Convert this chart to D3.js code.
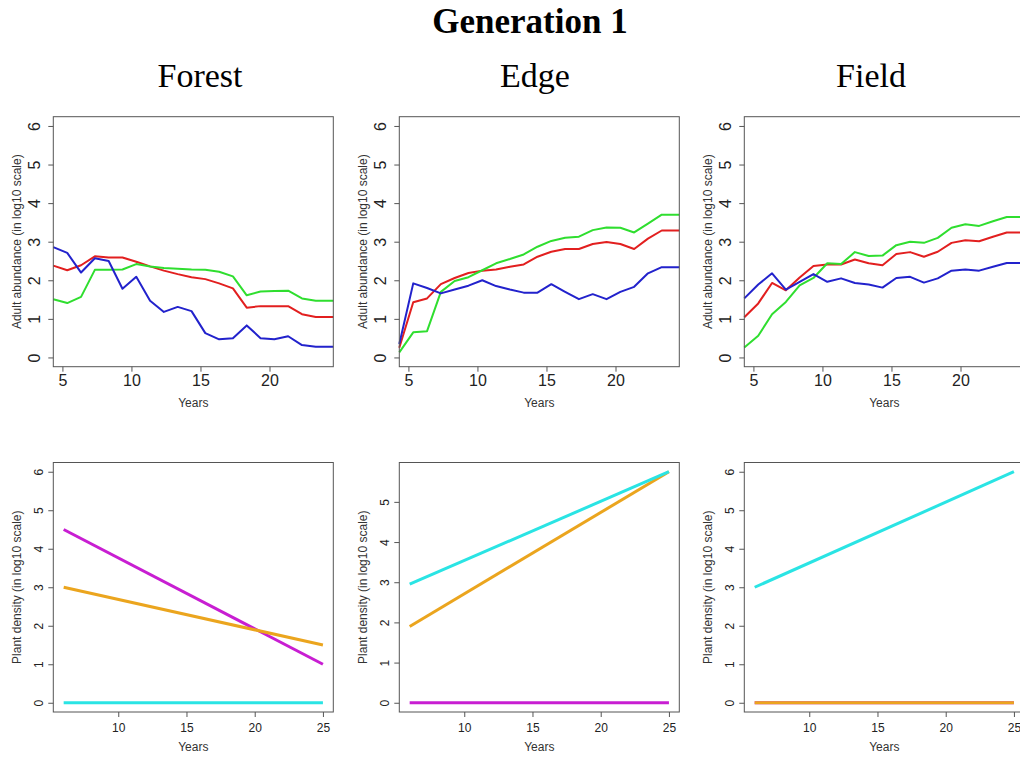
<!DOCTYPE html>
<html>
<head>
<meta charset="utf-8">
<script src="https://cdn.jsdelivr.net/npm/d3@7"></script>
<style>
    body { margin: 0; background: #fff; }
    svg { display: block; }
</style>
</head>
<body>
<svg id="chart" width="1020" height="757"></svg>
<script>

// ---- data ----

const habitats = ['Forest', 'Edge', 'Field'];

// adult abundance (log10), one vertex per year
const years_adult = [4.34, 5.35, 6.35, 7.35, 8.35, 9.35, 10.35, 11.35, 12.35, 13.35, 14.35,
                     15.35, 16.35, 17.35, 18.35, 19.35, 20.35, 21.35, 22.35, 23.35, 24.62];

const forest_red   = [2.38, 2.26, 2.39, 2.62, 2.59, 2.59, 2.48, 2.36, 2.25, 2.16, 2.08, 2.03, 1.92, 1.79, 1.29, 1.33, 1.33, 1.33, 1.12, 1.05, 1.05];
const forest_green = [1.51, 1.41, 1.57, 2.27, 2.27, 2.28, 2.42, 2.36, 2.32, 2.30, 2.28, 2.27, 2.22, 2.10, 1.61, 1.71, 1.72, 1.73, 1.53, 1.47, 1.47];
const forest_blue  = [2.86, 2.71, 2.20, 2.57, 2.50, 1.78, 2.09, 1.47, 1.18, 1.31, 1.20, 0.63, 0.47, 0.50, 0.83, 0.50, 0.47, 0.55, 0.32, 0.28, 0.28];

const edge_red   = [0.25, 1.43, 1.53, 1.90, 2.06, 2.19, 2.25, 2.28, 2.35, 2.41, 2.61, 2.74, 2.81, 2.81, 2.94, 2.99, 2.94, 2.81, 3.08, 3.29, 3.29];
const edge_green = [0.13, 0.65, 0.68, 1.70, 1.98, 2.08, 2.26, 2.44, 2.55, 2.67, 2.87, 3.02, 3.10, 3.13, 3.30, 3.37, 3.36, 3.24, 3.47, 3.70, 3.70];
const edge_blue  = [0.35, 1.92, 1.80, 1.66, 1.76, 1.86, 2.00, 1.85, 1.76, 1.68, 1.68, 1.90, 1.70, 1.51, 1.64, 1.51, 1.70, 1.83, 2.18, 2.34, 2.34];

const field_red   = [1.04, 1.40, 1.93, 1.74, 2.07, 2.37, 2.41, 2.41, 2.54, 2.44, 2.39, 2.68, 2.73, 2.61, 2.74, 2.97, 3.04, 3.01, 3.13, 3.24, 3.24];
const field_green = [0.26, 0.56, 1.12, 1.44, 1.87, 2.06, 2.44, 2.42, 2.73, 2.63, 2.64, 2.91, 3.00, 2.97, 3.10, 3.36, 3.45, 3.41, 3.53, 3.64, 3.64];
const field_blue  = [1.53, 1.89, 2.18, 1.76, 1.96, 2.16, 1.96, 2.05, 1.93, 1.89, 1.81, 2.06, 2.09, 1.94, 2.05, 2.25, 2.28, 2.25, 2.35, 2.45, 2.45];

// plant density (log10), start and end year
const years_plant = [6, 25];

const forest_magenta = [4.5, 1.0];
const forest_orange  = [3.0, 1.5];
const forest_cyan    = [0, 0];

const edge_magenta = [0, 0];
const edge_orange  = [1.9, 5.75];
const edge_cyan    = [2.95, 5.75];

const field_magenta = [0, 0];
const field_orange  = [0, 0];
const field_cyan    = [3.0, 6.0];

const ticks_years_adult = [5, 10, 15, 20];
const ticks_years_plant = [10, 15, 20, 25];
const ticks_log_full = [0, 1, 2, 3, 4, 5, 6];
const ticks_log_edge = [0, 1, 2, 3, 4, 5];

// ---- layout ----

const svg = d3.select('#chart');

const col_left = [53.3, 399.3, 744.3];
const panel_w = 280;

const colors = {
    red: '#e21f1f', green: '#2fde2f', blue: '#2222cc',
    magenta: '#c81ed2', orange: '#eba51e', cyan: '#2ae4e4'
};

svg.append('text')
    .attr('x', 530).attr('y', 33)
    .attr('text-anchor', 'middle')
    .style('font-family', '"Liberation Serif", "DejaVu Serif", serif')
    .style('font-weight', 'bold')
    .style('font-size', '35px')
    .text('Generation 1');

const subtitle_x = [200, 535, 871];

habitats.forEach((h, i) => {
    svg.append('text')
        .attr('x', subtitle_x[i]).attr('y', 87)
        .attr('text-anchor', 'middle')
        .style('font-family', '"Liberation Serif", "DejaVu Serif", serif')
        .style('font-size', '34px')
        .text(h);
});

function drawPanel(o) {

    const g = svg.append('g').attr('transform', `translate(${o.left},${o.top})`);

    const x = d3.scaleLinear().domain(o.xDomain).range([0, panel_w]);
    const y = d3.scaleLinear().domain(o.yDomain).range([o.h, 0]);

    const line = d3.line()
        .x((d, i) => x(o.years[i]))
        .y(d => y(d));

    o.series.forEach(s => {
        g.append('path')
            .datum(s.values)
            .attr('d', line)
            .attr('fill', 'none')
            .attr('stroke', colors[s.color])
            .attr('stroke-width', o.lineWidth)
            .attr('stroke-linejoin', 'round');
    });

    g.append('rect')
        .attr('width', panel_w).attr('height', o.h)
        .attr('fill', 'none')
        .attr('stroke', '#555')
        .attr('stroke-width', 1);

    const xAxis = g.append('g')
        .attr('transform', `translate(0,${o.h})`)
        .call(d3.axisBottom(x).tickValues(o.xTicks).tickSize(5).tickFormat(d3.format('d')));

    xAxis.select('.domain').remove();
    xAxis.selectAll('line').attr('stroke', '#555');
    xAxis.selectAll('text')
        .attr('y', o.xLabelY).attr('dy', null)
        .attr('fill', '#222')
        .style('font-family', '"Liberation Sans", Arial, sans-serif')
        .style('font-size', o.tickFont + 'px');

    const yAxis = g.append('g')
        .call(d3.axisLeft(y).tickValues(o.yTicks).tickSize(5).tickFormat(d3.format('d')));

    yAxis.select('.domain').remove();
    yAxis.selectAll('line').attr('stroke', '#555');
    yAxis.selectAll('text')
        .attr('transform', 'rotate(-90)')
        .attr('x', 0).attr('y', -o.yLabelX).attr('dy', null)
        .attr('text-anchor', 'middle')
        .attr('fill', '#222')
        .style('font-family', '"Liberation Sans", Arial, sans-serif')
        .style('font-size', o.tickFont + 'px');

    g.append('text')
        .attr('x', panel_w / 2).attr('y', o.h + o.yearsY)
        .attr('text-anchor', 'middle')
        .attr('fill', '#333')
        .style('font-family', '"Liberation Sans", Arial, sans-serif')
        .style('font-size', '12px')
        .text('Years');

    g.append('text')
        .attr('transform', `translate(-32,${o.h / 2}) rotate(-90)`)
        .attr('text-anchor', 'middle')
        .attr('fill', '#333')
        .style('font-family', '"Liberation Sans", Arial, sans-serif')
        .style('font-size', '12px')
        .text(o.yTitle);
}

const adult = [
    [forest_red, forest_green, forest_blue],
    [edge_red, edge_green, edge_blue],
    [field_red, field_green, field_blue]
];

const plant = [
    [forest_magenta, forest_orange, forest_cyan],
    [edge_magenta, edge_orange, edge_cyan],
    [field_magenta, field_orange, field_cyan]
];

habitats.forEach((h, i) => {

    drawPanel({
        left: col_left[i], top: 116.7, h: 250,
        xDomain: [4.34, 24.62], yDomain: [-0.24, 6.24],
        years: years_adult,
        series: [
            { values: adult[i][0], color: 'red' },
            { values: adult[i][1], color: 'green' },
            { values: adult[i][2], color: 'blue' }
        ],
        lineWidth: 2,
        xTicks: ticks_years_adult, yTicks: ticks_log_full,
        tickFont: 16, xLabelY: 19, yLabelX: 13,
        yearsY: 40,
        yTitle: 'Adult abundance (in log10 scale)'
    });

    const edge = h === 'Edge';

    drawPanel({
        left: col_left[i], top: 462.5, h: 249.5,
        xDomain: [5.24, 25.76], yDomain: edge ? [-0.23, 5.98] : [-0.24, 6.24],
        years: years_plant,
        series: [
            { values: plant[i][0], color: 'magenta' },
            { values: plant[i][1], color: 'orange' },
            { values: plant[i][2], color: 'cyan' }
        ],
        lineWidth: 3,
        xTicks: ticks_years_plant, yTicks: edge ? ticks_log_edge : ticks_log_full,
        tickFont: 12, xLabelY: 20, yLabelX: 10,
        yearsY: 39,
        yTitle: 'Plant density (in log10 scale)'
    });

});

</script>
</body>
</html>
